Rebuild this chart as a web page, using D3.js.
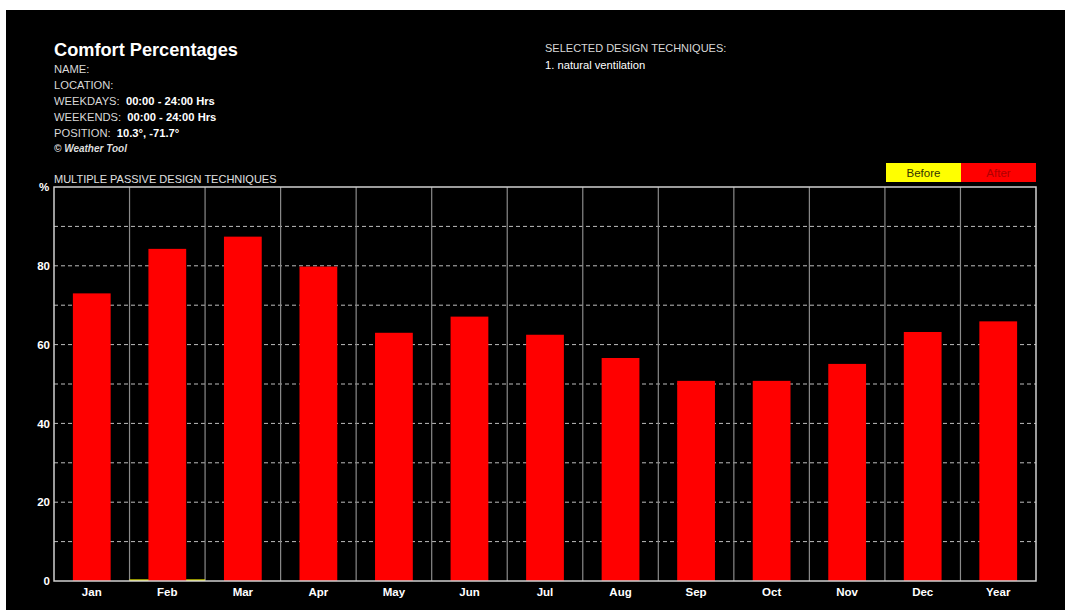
<!DOCTYPE html>
<html><head><meta charset="utf-8">
<script src="https://cdn.jsdelivr.net/npm/d3@7"></script>
<style>
html,body{margin:0;padding:0;background:#fff;}
svg{display:block;font-family:"Liberation Sans",Arial,sans-serif;}
</style></head>
<body>
<svg id="c" width="1065" height="610"></svg>
<script>
const categories = ["Jan","Feb","Mar","Apr","May","Jun","Jul","Aug","Sep","Oct","Nov","Dec","Year"];
const beforeValues = [0,0.4,0,0,0,0,0,0,0,0,0,0,0];
const afterValues = [73.0,84.3,87.4,79.8,63.0,67.1,62.5,56.6,50.8,50.8,55.1,63.2,65.9];
const yTicks = [0,20,40,60,80];
const gridTicks = [10,20,30,40,50,60,70,80,90];
const seriesNames = ["Before","After"];

const svg = d3.select("#c");
svg.append("rect").attr("x",6).attr("y",10).attr("width",1059).attr("height",600).attr("fill","#000");

const L=54,R=1036,T=187,B=581;
const x = d3.scaleBand().domain(categories).range([L,R]).padding(0);
const y = d3.scaleLinear().domain([0,100]).range([B,T]);

// header text
const hdr = svg.append("g").attr("fill","#e6e6e6");
hdr.append("text").attr("x",54).attr("y",56).attr("font-size",18.2).attr("font-weight","bold").attr("fill","#fff").text("Comfort Percentages");
const lines = [["NAME:",""],["LOCATION:",""],["WEEKDAYS:  ","00:00 - 24:00 Hrs"],["WEEKENDS:  ","00:00 - 24:00 Hrs"],["POSITION:  ","10.3°, -71.7°"]];
lines.forEach((l,i)=>{
  const t = hdr.append("text").attr("x",54).attr("y",73+i*16).attr("font-size",11.2).attr("xml:space","preserve");
  t.append("tspan").attr("fill","#d8d8d8").text(l[0]);
  t.append("tspan").attr("font-weight","bold").attr("fill","#fff").text(l[1]);
});
hdr.append("text").attr("x",54).attr("y",152).attr("font-size",10).attr("font-style","italic").attr("font-weight","bold").attr("fill","#ddd").text("© Weather Tool");
hdr.append("text").attr("x",545).attr("y",52).attr("font-size",11).attr("fill","#d8d8d8").text("SELECTED DESIGN TECHNIQUES:");
hdr.append("text").attr("x",545).attr("y",69).attr("font-size",11.2).attr("fill","#fff").text("1. natural ventilation");
hdr.append("text").attr("x",54).attr("y",183).attr("font-size",11).attr("fill","#e0e0e0").text("MULTIPLE PASSIVE DESIGN TECHNIQUES");
hdr.append("text").attr("x",44).attr("y",191).attr("font-size",11.5).attr("font-weight","bold").attr("text-anchor","middle").attr("fill","#fff").text("%");

// legend
const lx = d3.scaleBand().domain(seriesNames).range([886,1036]);
const legColors = {"Before":"#ffff00","After":"#ff0000"};
const legText = {"Before":"#333300","After":"#b00000"};
seriesNames.forEach(s=>{
  svg.append("rect").attr("x",lx(s)).attr("y",163).attr("width",lx.bandwidth()).attr("height",19).attr("fill",legColors[s]);
  svg.append("text").attr("x",lx(s)+lx.bandwidth()/2).attr("y",177).attr("text-anchor","middle").attr("font-size",11.5).attr("fill",legText[s]).text(s);
});

// gridlines
svg.append("g").selectAll("line").data(gridTicks).join("line")
  .attr("x1",L).attr("x2",R).attr("y1",d=>y(d)).attr("y2",d=>y(d))
  .attr("stroke","#bdbdbd").attr("stroke-width",1).attr("stroke-dasharray","4,3");

// category dividers
svg.append("g").selectAll("line").data(categories.slice(1)).join("line")
  .attr("x1",d=>x(d)).attr("x2",d=>x(d)).attr("y1",T).attr("y2",B)
  .attr("stroke","#8a8a8a").attr("stroke-width",1.2);

// before bars (full band)
svg.append("g").selectAll("rect").data(categories).join("rect")
  .attr("x",d=>x(d)).attr("width",x.bandwidth())
  .attr("y",(d,i)=>y(beforeValues[i])).attr("height",(d,i)=>B-y(beforeValues[i]))
  .attr("fill","#ffff00");

// after bars
const bw = x.bandwidth()*0.5;
svg.append("g").selectAll("rect").data(categories).join("rect")
  .attr("x",d=>x(d)+(x.bandwidth()-bw)/2).attr("width",bw)
  .attr("y",(d,i)=>y(afterValues[i])).attr("height",(d,i)=>B-y(afterValues[i]))
  .attr("fill","#ff0000");

// frame
svg.append("rect").attr("x",L).attr("y",T).attr("width",R-L).attr("height",B-T)
  .attr("fill","none").attr("stroke","#d0d0d0").attr("stroke-width",1.5);

// y axis
const yAxis = svg.append("g").attr("transform",`translate(${L-4},0)`)
  .call(d3.axisLeft(y).tickValues(yTicks).tickSize(0).tickPadding(0));
yAxis.select(".domain").remove();
yAxis.selectAll("text").attr("fill","#fff").attr("font-size",11.5).attr("font-weight","bold").attr("font-family","Liberation Sans, Arial, sans-serif");

// x axis
const xAxis = svg.append("g").attr("transform",`translate(0,${B})`)
  .call(d3.axisBottom(x).tickSize(0).tickPadding(7));
xAxis.select(".domain").remove();
xAxis.selectAll("text").attr("fill","#fff").attr("font-size",11.5).attr("font-weight","bold").attr("font-family","Liberation Sans, Arial, sans-serif");
</script>
</body></html>
